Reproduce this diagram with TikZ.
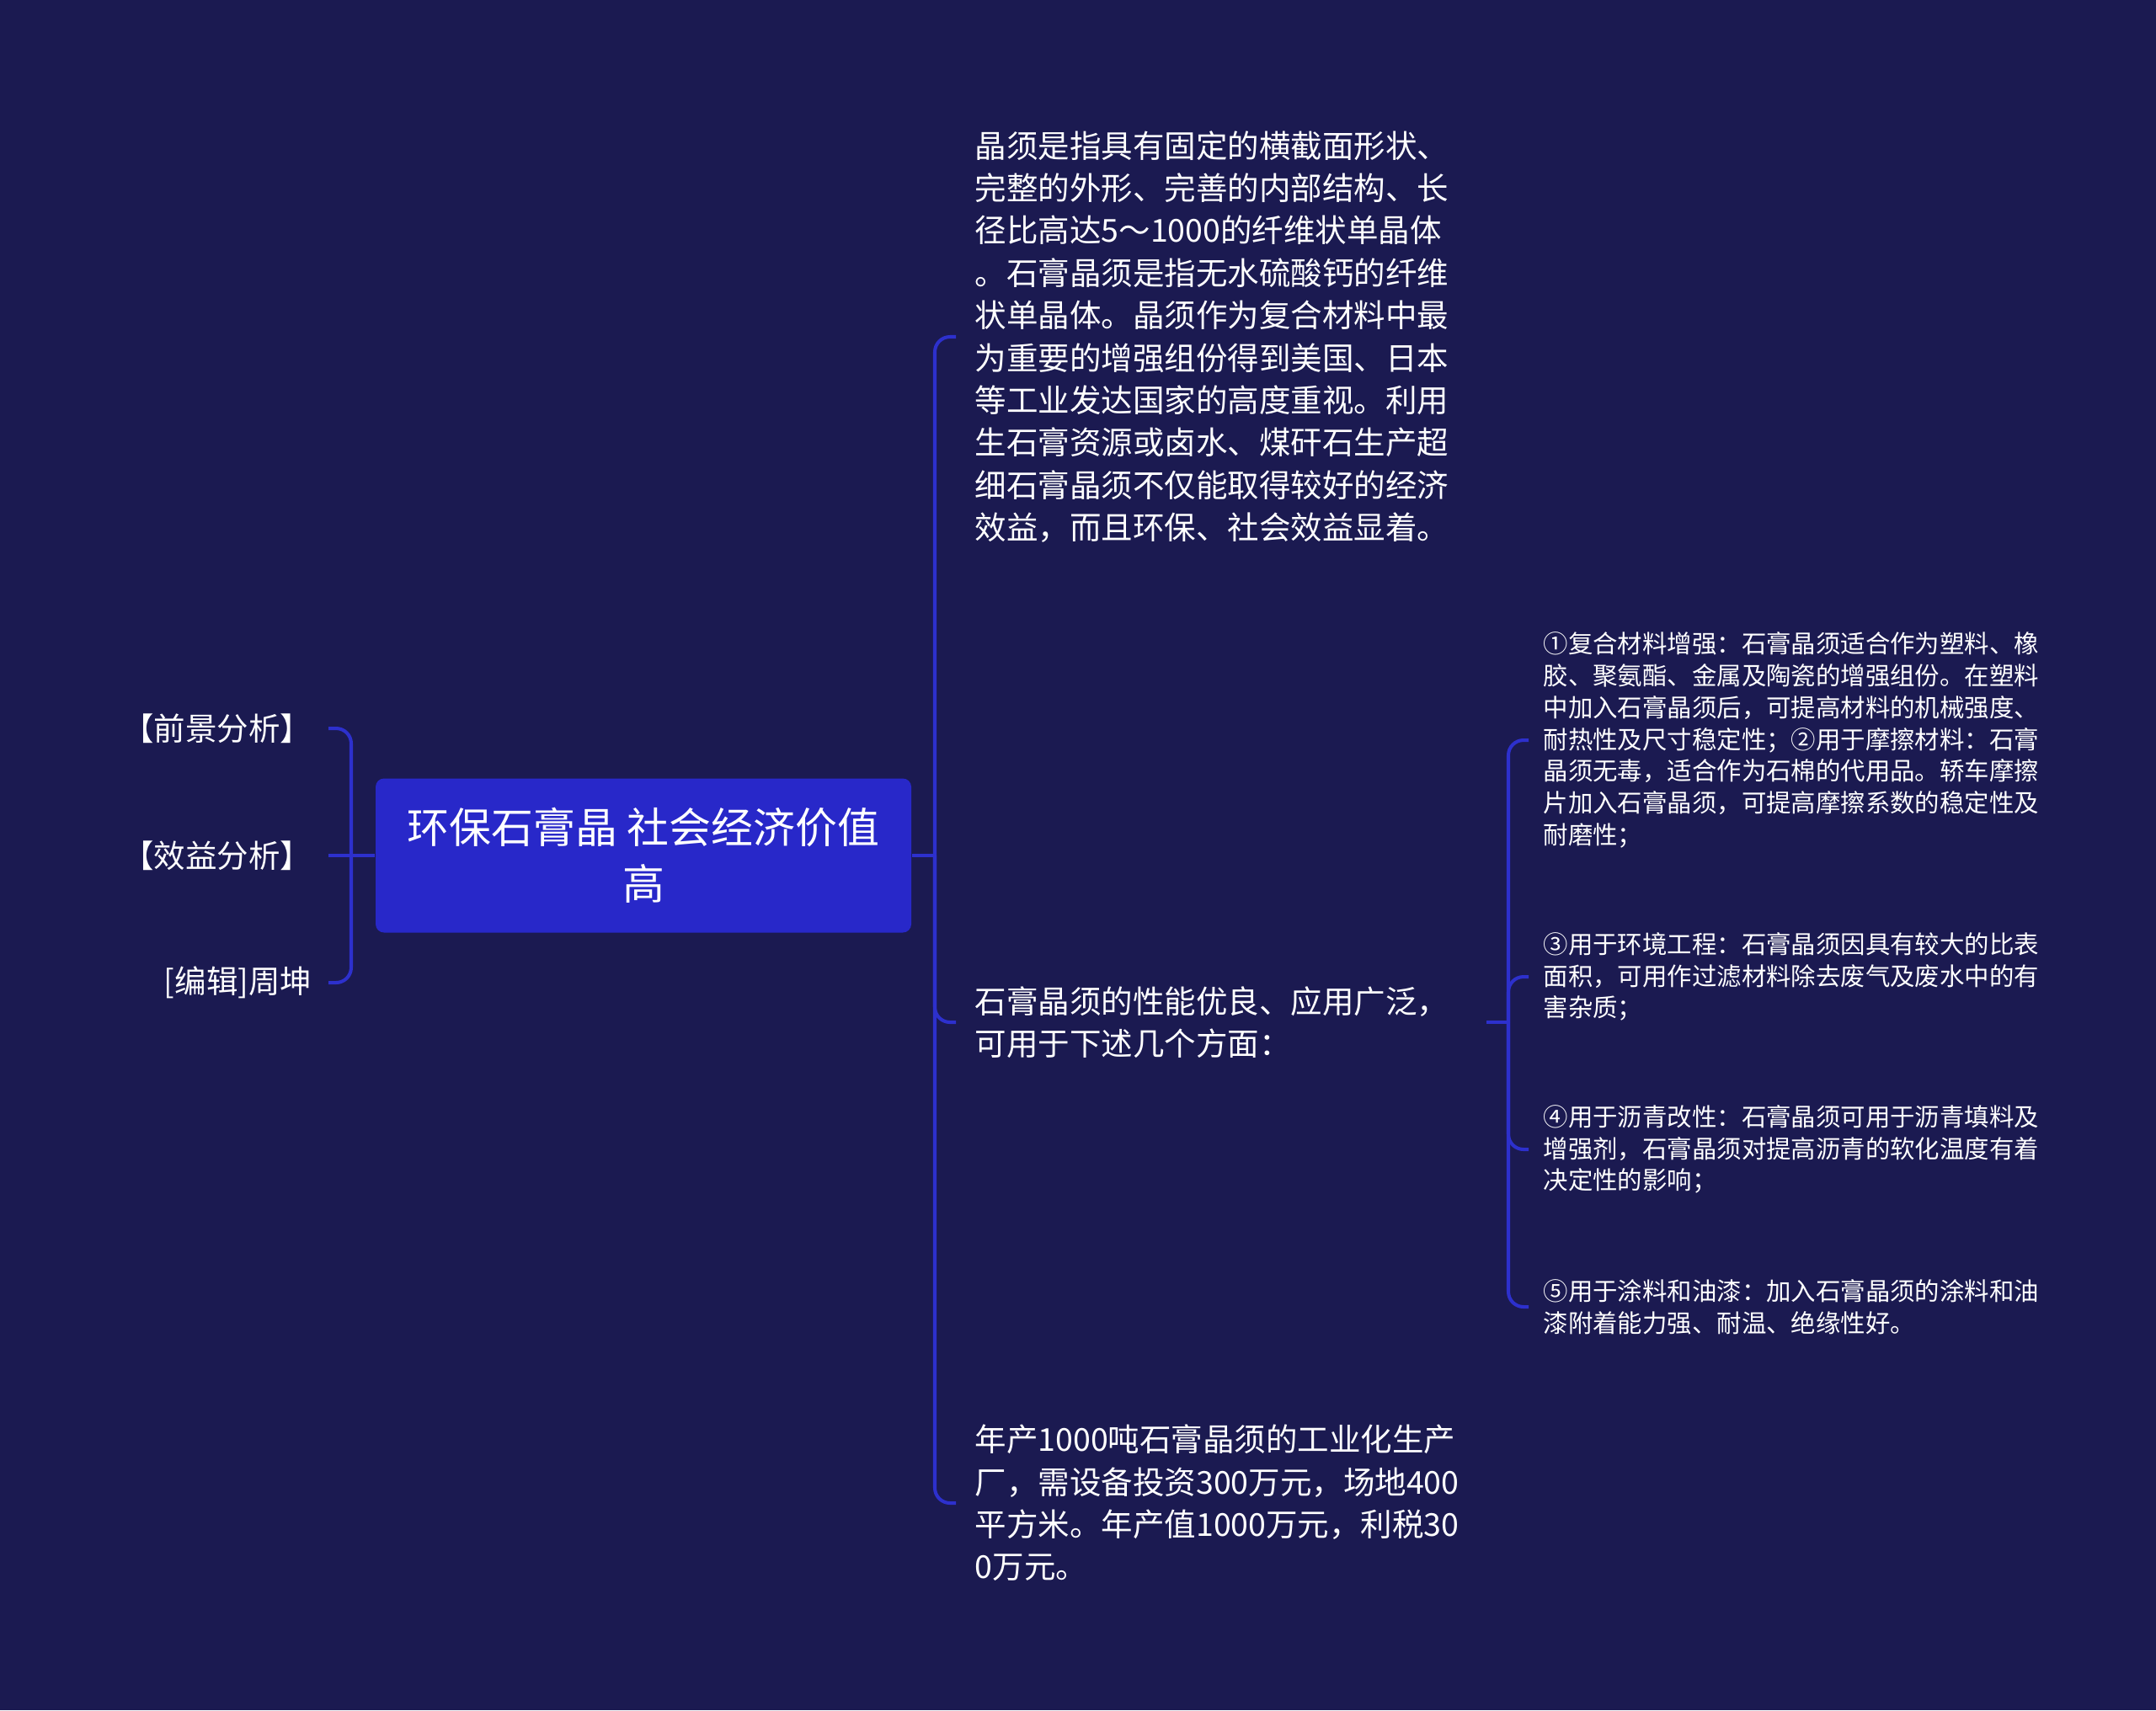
\documentclass[tikz,border=0pt]{standalone}
\usepackage{fontspec}
\setmainfont{Noto Sans CJK SC}
\usetikzlibrary{calc}
\definecolor{mapbg}{HTML}{1B1A51}
\definecolor{maplink}{HTML}{2D30CD}
\definecolor{maproot}{HTML}{2828C9}
\begin{document}
\begin{tikzpicture}[
  link/.style={draw=maplink,line width=1.15pt,rounded corners=0.18cm},
  rootn/.style={fill=maproot,rounded corners=0.1cm,text=white,align=center,minimum width=6.36cm,minimum height=1.83cm,inner sep=0pt,font=\fontsize{14.2}{19.1}\selectfont},
  leaf/.style={text=white,align=left,inner sep=0pt,anchor=west,font=\fontsize{10.67}{14.34}\selectfont},
  side/.style={text=white,align=right,inner sep=0pt,anchor=east,font=\fontsize{10.67}{14.34}\selectfont},
  subleaf/.style={text=white,align=left,inner sep=0pt,anchor=west,font=\fontsize{8.37}{10.76}\selectfont}]
% background
\fill[mapbg] (0,0) rectangle (25.6,-20.31);
\useasboundingbox (0,0) rectangle (25.6,-20.31);
% root and left side
\node[rootn] (root) at (7.64,-10.16) {环保石膏晶 社会经济价值\\高};
\node[side] (lq) at (3.71,-8.65) {【前景分析】};
\node[side] (lx) at (3.71,-10.16) {【效益分析】};
\node[side] (lb) at (3.71,-11.67) {[编辑]周坤};
\coordinate (lj) at (4.17,-10.16);
\draw[link] (root.west) -- ($(lx.east)+(0.19,0)$);
\foreach \n in {lq,lb}{\draw[link] (lj) |- ($(\n.east)+(0.19,0)$);}
% first level
\node[leaf] (t1) at (11.57,-4.00) {晶须是指具有固定的横截面形状、\\完整的外形、完善的内部结构、长\\径比高达5～1000的纤维状单晶体\\。石膏晶须是指无水硫酸钙的纤维\\状单晶体。晶须作为复合材料中最\\为重要的增强组份得到美国、日本\\等工业发达国家的高度重视。利用\\生石膏资源或卤水、煤矸石生产超\\细石膏晶须不仅能取得较好的经济\\效益，而且环保、社会效益显着。};
\node[leaf] (t2) at (11.57,-12.14) {石膏晶须的性能优良、应用广泛，\\可用于下述几个方面：};
\node[leaf] (t3) at (11.57,-17.85) {年产1000吨石膏晶须的工业化生产\\厂，需设备投资300万元，场地400\\平方米。年产值1000万元，利税30\\0万元。};
\coordinate (rj) at (11.10,-10.16);
\draw[link] (root.east) -- (rj);
\foreach \n in {t1,t2,t3}{\draw[link] (rj) |- ($(\n.west)+(-0.22,0)$);}
% applications
\node[subleaf] (s1) at (18.32,-8.79) {①复合材料增强：石膏晶须适合作为塑料、橡\\胶、聚氨酯、金属及陶瓷的增强组份。在塑料\\中加入石膏晶须后，可提高材料的机械强度、\\耐热性及尺寸稳定性；②用于摩擦材料：石膏\\晶须无毒，适合作为石棉的代用品。轿车摩擦\\片加入石膏晶须，可提高摩擦系数的稳定性及\\耐磨性；};
\node[subleaf] (s3) at (18.32,-11.60) {③用于环境工程：石膏晶须因具有较大的比表\\面积，可用作过滤材料除去废气及废水中的有\\害杂质；};
\node[subleaf] (s4) at (18.32,-13.65) {④用于沥青改性：石膏晶须可用于沥青填料及\\增强剂，石膏晶须对提高沥青的软化温度有着\\决定性的影响；};
\node[subleaf] (s5) at (18.32,-15.52) {⑤用于涂料和油漆：加入石膏晶须的涂料和油\\漆附着能力强、耐温、绝缘性好。};
\coordinate (sj) at (17.91,-12.14);
\draw[link] ($(t2.east)+(0.44,0)$) -- (sj);
\foreach \n in {s1,s3,s4,s5}{\draw[link] (sj) |- ($(\n.west)+(-0.17,0)$);}
\end{tikzpicture}
\end{document}
